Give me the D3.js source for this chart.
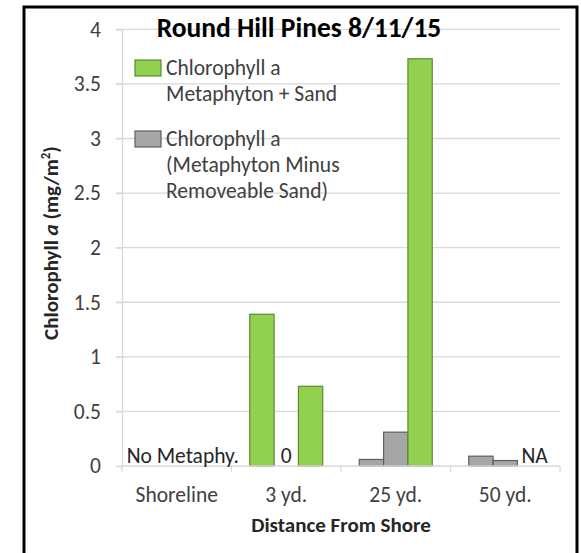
<!DOCTYPE html>
<html lang="en">
<head>
    <meta charset="UTF-8">
    <title>Round Hill Pines</title>
    <script src="https://d3js.org/d3.v7.min.js"></script>
    <style>
        body { margin: 0; background: #fff; }
        text { font-family: Carlito, Calibri, Lato, sans-serif; }
    </style>
</head>
<body>
<svg id="chart"></svg>

<script>
    // chart values
    const categories = ["Shoreline", "3 yd.", "25 yd.", "50 yd."];
    const slot1 = [null, 1.39, 0.06, 0.09];
    const slot2 = [null, 0, 0.31, 0.05];
    const slot3 = [null, 0.73, 3.73, null];
    // which legend entry each point belongs to (0 = + sand, 1 = minus sand)
    const slot1Kind = [0, 0, 1, 1];
    const slot2Kind = [1, 1, 1, 1];
    const slot3Kind = [0, 0, 0, 0];
    const yTicks = [0, 0.5, 1, 1.5, 2, 2.5, 3, 3.5, 4];
    const legendLabels = [
        ["Chlorophyll a", "Metaphyton + Sand"],
        ["Chlorophyll a", "(Metaphyton Minus", "Removeable Sand)"]
    ];
    const pointLabels = [
        {cat: "Shoreline", slot: 1, text: "No Metaphy."},
        {cat: "3 yd.", slot: 1, text: "0"},
        {cat: "50 yd.", slot: 2, text: "NA"}
    ];

    let width = 581,
        height = 553;

    let fill = ["#92D050", "#A6A6A6"],
        edge = ["#5E8A30", "#5F5F5F"];

    let fs = 21.5;

    let svg = d3.select("#chart")
        .attr("width", width)
        .attr("height", height);

    // outer frame
    svg.append("rect")
        .attr("x", 24)
        .attr("y", 7)
        .attr("width", 553)
        .attr("height", 560)
        .attr("fill", "none")
        .attr("stroke", "#000")
        .attr("stroke-width", 3);

    let plotLeft = 122, plotRight = 560, plotTop = 29.3, plotBottom = 466;

    let x = d3.scaleBand()
        .domain(categories)
        .range([plotLeft, plotRight])
        .paddingInner(1 / 3)
        .paddingOuter(1 / 6);

    let xs = d3.scaleBand()
        .domain([0, 1, 2])
        .range([0, x.bandwidth()]);

    let y = d3.scaleLinear()
        .domain([0, 4])
        .range([plotBottom, plotTop]);

    // gridlines
    svg.append("g")
        .selectAll("line")
        .data(yTicks.filter(d => d > 0))
        .enter().append("line")
        .attr("x1", plotLeft - 6)
        .attr("x2", plotRight)
        .attr("y1", d => y(d))
        .attr("y2", d => y(d))
        .attr("stroke", "#D9D9D9")
        .attr("stroke-width", 1.3);

    // y axis
    let yAxis = svg.append("g")
        .attr("transform", "translate(" + plotLeft + ",0)")
        .call(d3.axisLeft(y).tickValues(yTicks).tickSize(6).tickPadding(15).tickFormat(d3.format("")));
    yAxis.select(".domain").attr("stroke", "#D9D9D9").attr("stroke-width", 1.3);
    yAxis.selectAll(".tick line").attr("stroke", "#D9D9D9").attr("stroke-width", 1.3);
    yAxis.selectAll(".tick text")
        .attr("font-size", fs)
        .attr("fill", "#404040")
        .style("font-family", "Carlito, Calibri, Lato, sans-serif");

    // bars
    let slots = [slot1, slot2, slot3],
        kinds = [slot1Kind, slot2Kind, slot3Kind];
    let bars = [];
    categories.forEach(function (c, i) {
        slots.forEach(function (s, j) {
            if (s[i] !== null) {
                bars.push({cat: c, slot: j, value: s[i], kind: kinds[j][i]});
            }
        });
    });

    svg.append("g")
        .selectAll("rect")
        .data(bars)
        .enter().append("rect")
        .attr("x", d => x(d.cat) + xs(d.slot))
        .attr("y", d => y(d.value))
        .attr("width", xs.bandwidth())
        .attr("height", d => y(0) - y(d.value))
        .attr("fill", d => fill[d.kind])
        .attr("stroke", d => edge[d.kind])
        .attr("stroke-width", d => d.value > 0 ? 1.2 : 0);

    // x axis with ticks between categories
    let step = x.step();
    let bounds = categories.map(c => x(c) - step * x.paddingInner() / 2);
    bounds.push(plotRight);

    svg.append("line")
        .attr("x1", plotLeft)
        .attr("x2", plotRight)
        .attr("y1", plotBottom)
        .attr("y2", plotBottom)
        .attr("stroke", "#D9D9D9")
        .attr("stroke-width", 1.3);

    svg.append("g")
        .selectAll("line")
        .data(bounds)
        .enter().append("line")
        .attr("x1", d => d)
        .attr("x2", d => d)
        .attr("y1", plotBottom)
        .attr("y2", plotBottom + 6)
        .attr("stroke", "#D9D9D9")
        .attr("stroke-width", 1.3);

    svg.append("g")
        .selectAll("text")
        .data(categories)
        .enter().append("text")
        .attr("x", d => x(d) + x.bandwidth() / 2)
        .attr("y", 502)
        .attr("text-anchor", "middle")
        .attr("font-size", fs)
        .attr("fill", "#404040")
        .text(d => d);

    // point labels
    svg.append("g")
        .selectAll("text")
        .data(pointLabels)
        .enter().append("text")
        .attr("x", function (d) {
            let bx = x(d.cat) + xs(d.slot);
            return d.text === "NA" ? bx + 4 : bx + xs.bandwidth() / 2 + (d.text === "0" ? 0 : 6);
        })
        .attr("y", plotBottom - 3)
        .attr("text-anchor", d => d.text === "NA" ? "start" : "middle")
        .attr("font-size", fs)
        .attr("fill", "#262626")
        .text(d => d.text);

    // title
    svg.append("text")
        .attr("x", 299)
        .attr("y", 37)
        .attr("text-anchor", "middle")
        .attr("font-size", 27.5)
        .attr("font-weight", "bold")
        .attr("fill", "#000")
        .text("Round Hill Pines 8/11/15");

    // axis titles
    svg.append("text")
        .attr("x", (plotLeft + plotRight) / 2)
        .attr("y", 532)
        .attr("text-anchor", "middle")
        .attr("font-size", 21)
        .attr("font-weight", "bold")
        .attr("fill", "#262626")
        .text("Distance From Shore");

    let yTitle = svg.append("text")
        .attr("transform", "translate(58,243) rotate(-90)")
        .attr("text-anchor", "middle")
        .attr("font-size", 21)
        .attr("font-weight", "bold")
        .attr("fill", "#262626");
    yTitle.append("tspan").text("Chlorophyll ");
    yTitle.append("tspan").attr("font-style", "italic").text("a");
    yTitle.append("tspan").text(" (mg/m");
    yTitle.append("tspan").attr("font-size", 13).attr("dy", -8).text("2");
    yTitle.append("tspan").attr("dy", 8).text(")");

    // legend
    let legendTop = [60, 131];
    let legend = svg.append("g");
    legendLabels.forEach(function (lines, i) {
        legend.append("rect")
            .attr("x", 135)
            .attr("y", legendTop[i])
            .attr("width", 26)
            .attr("height", 16)
            .attr("fill", fill[i])
            .attr("stroke", edge[i])
            .attr("stroke-width", 1.2);
        legend.selectAll(".l" + i)
            .data(lines)
            .enter().append("text")
            .attr("class", "l" + i)
            .attr("x", 166)
            .attr("y", (d, k) => legendTop[i] + 15 + k * 25.8)
            .attr("font-size", fs)
            .attr("fill", "#404040")
            .text(d => d);
    });
</script>
</body>
</html>
